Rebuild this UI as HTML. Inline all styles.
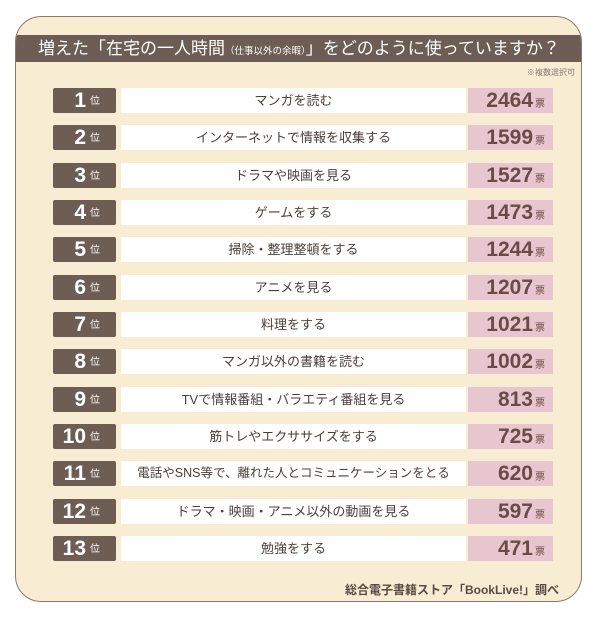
<!DOCTYPE html>
<html><head><meta charset="utf-8"><style>
body{margin:0;width:600px;height:618px;background:#fff;position:relative;overflow:hidden;font-family:"Liberation Sans","Noto Sans CJK JP",sans-serif;}
.card{position:absolute;left:15px;top:16px;width:567px;height:586px;background:#f8ecd2;border:1.5px solid #8a7a6e;border-radius:26px;box-sizing:border-box;overflow:hidden;}
.title{position:absolute;left:0;top:18px;width:100%;height:27px;background:#6e5d55;color:#fff;font-size:17px;line-height:27px;padding-left:22px;box-sizing:border-box;white-space:nowrap;}
.title small{font-size:9.5px;}
.note{position:absolute;right:6px;top:50px;font-size:8px;color:#8a7a6e;}
.row{position:absolute;left:0;width:100%;height:25px;}
.rk{position:absolute;left:37px;width:63px;height:25px;background:#6e5d55;color:#fff;border-radius:2px;}
.rk b{position:absolute;right:30px;top:0;font-size:21px;line-height:26px;font-weight:bold;font-family:"Liberation Sans Narrow","Liberation Sans",sans-serif;}
.rk i{position:absolute;left:37px;top:0;font-style:normal;font-size:10px;line-height:27px;}
.lb{position:absolute;left:105px;width:345px;height:25px;background:#fff;text-align:center;font-size:13px;line-height:25px;color:#4a3f3a;}
.nm{position:absolute;left:452px;width:85px;height:25px;background:#e8c6cf;color:#6b4a4a;text-align:right;padding-right:8px;box-sizing:border-box;}
.nm b{font-size:21px;line-height:26px;font-weight:bold;font-family:"Liberation Sans Narrow","Liberation Sans",sans-serif;}
.nm i{font-style:normal;font-size:10px;margin-left:2px;}
.foot{position:absolute;right:22px;top:564px;font-size:12px;color:#5a4a44;font-weight:bold;}
</style></head><body>
<div class="card">
<div class="title">増えた「在宅の一人時間<small>（仕事以外の余暇）</small>」をどのように使っていますか？</div>
<div class="note">※複数選択可</div>
<div class="row" style="top:71px"><div class="rk"><b>1</b><i>位</i></div><div class="lb">マンガを読む</div><div class="nm"><b>2464</b><i>票</i></div></div>
<div class="row" style="top:108.3px"><div class="rk"><b>2</b><i>位</i></div><div class="lb">インターネットで情報を収集する</div><div class="nm"><b>1599</b><i>票</i></div></div>
<div class="row" style="top:145.7px"><div class="rk"><b>3</b><i>位</i></div><div class="lb">ドラマや映画を見る</div><div class="nm"><b>1527</b><i>票</i></div></div>
<div class="row" style="top:183px"><div class="rk"><b>4</b><i>位</i></div><div class="lb">ゲームをする</div><div class="nm"><b>1473</b><i>票</i></div></div>
<div class="row" style="top:220.3px"><div class="rk"><b>5</b><i>位</i></div><div class="lb">掃除・整理整頓をする</div><div class="nm"><b>1244</b><i>票</i></div></div>
<div class="row" style="top:257.7px"><div class="rk"><b>6</b><i>位</i></div><div class="lb">アニメを見る</div><div class="nm"><b>1207</b><i>票</i></div></div>
<div class="row" style="top:295px"><div class="rk"><b>7</b><i>位</i></div><div class="lb">料理をする</div><div class="nm"><b>1021</b><i>票</i></div></div>
<div class="row" style="top:332.3px"><div class="rk"><b>8</b><i>位</i></div><div class="lb">マンガ以外の書籍を読む</div><div class="nm"><b>1002</b><i>票</i></div></div>
<div class="row" style="top:369.7px"><div class="rk"><b>9</b><i>位</i></div><div class="lb">TVで情報番組・バラエティ番組を見る</div><div class="nm"><b>813</b><i>票</i></div></div>
<div class="row" style="top:407px"><div class="rk"><b>10</b><i>位</i></div><div class="lb">筋トレやエクササイズをする</div><div class="nm"><b>725</b><i>票</i></div></div>
<div class="row" style="top:444.3px"><div class="rk"><b>11</b><i>位</i></div><div class="lb" style="font-size:12.5px">電話やSNS等で、離れた人とコミュニケーションをとる</div><div class="nm"><b>620</b><i>票</i></div></div>
<div class="row" style="top:481.7px"><div class="rk"><b>12</b><i>位</i></div><div class="lb">ドラマ・映画・アニメ以外の動画を見る</div><div class="nm"><b>597</b><i>票</i></div></div>
<div class="row" style="top:519px"><div class="rk"><b>13</b><i>位</i></div><div class="lb">勉強をする</div><div class="nm"><b>471</b><i>票</i></div></div>
<div class="foot">総合電子書籍ストア「BookLive!」調べ</div>
</div>
</body></html>
